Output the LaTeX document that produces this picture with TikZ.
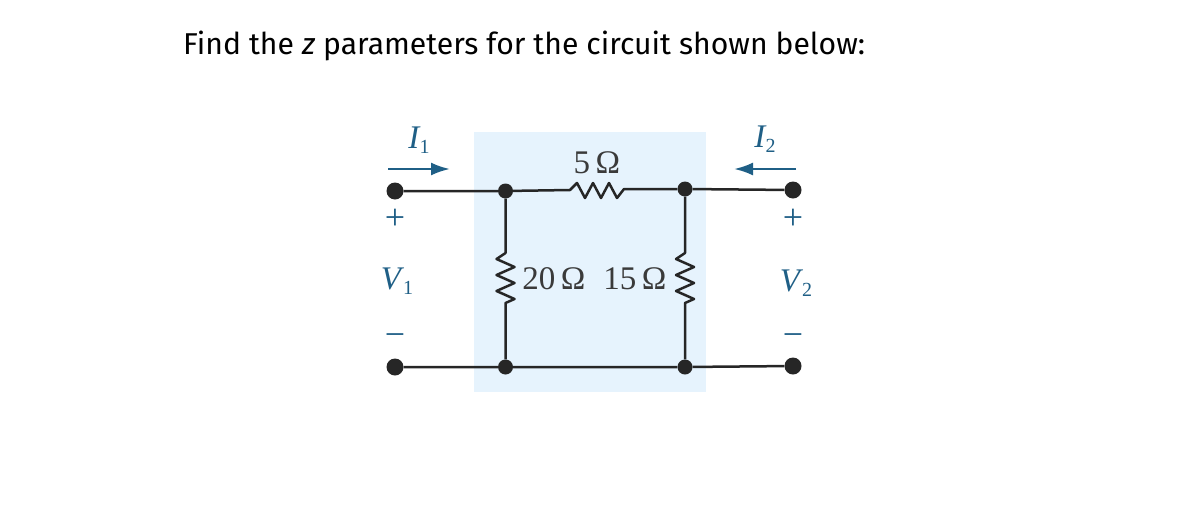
\documentclass[tikz,border=0pt]{standalone}
\usepackage{fontspec}
\setmainfont{Liberation Serif}
\newfontfamily\handfont{Fira Sans}
\usetikzlibrary{arrows.meta}
\definecolor{panel}{HTML}{E6F3FD}
\definecolor{wirec}{HTML}{262626}
\definecolor{teal}{HTML}{1F5F86}
\definecolor{labelc}{HTML}{3A3A3A}
\newcommand{\subnum}[1]{\kern-1pt\raisebox{-5pt}{\fontsize{20}{20}\selectfont #1}}
\tikzset{
  x=1pt,y=-1pt,
  wire/.style={draw=wirec,line width=2.5pt,line join=round},
  term/.style={circle,fill=wirec,inner sep=0pt,minimum size=17pt},
  junc/.style={circle,fill=wirec,inner sep=0pt,minimum size=15pt},
  lab/.style={inner sep=0pt,text=labelc,font=\fontsize{33}{33}\selectfont},
  slab/.style={inner sep=0pt,text=teal,font=\fontsize{33}{33}\selectfont},
  sign/.style={inner sep=0pt,text=teal,font=\fontsize{36}{36}\selectfont},
  flow/.style={draw=teal,line width=2.5pt,-{Latex[length=19pt,width=13pt]}},
  resh/.style={to path={-- ++(7,-7) -- ++(8,15) -- ++(8,-15) -- ++(8,15) -- ++(8,-15) -- ++(8,15) -- (\tikztotarget)}},
  resv/.style={to path={-- ++(9,-4) -- ++(-18,-8) -- ++(18,-8) -- ++(-18,-8) -- ++(18,-8) -- ++(-18,-8) -- (\tikztotarget)}},
}
\begin{document}
\begin{tikzpicture}
\useasboundingbox (0,0) rectangle (1179,504);
\fill[panel] (474,132) rectangle (706,392);
\node[anchor=west,inner sep=0pt,font=\handfont\fontsize{30}{30}\selectfont] (title) at (183,46)
  {\resizebox{682pt}{!}{Find the \textit{z} parameters for the circuit shown below:}};
\node[term] (t1) at (395,191) {};
\node[term] (t2) at (793,190) {};
\node[term] (t3) at (395,367) {};
\node[term] (t4) at (793,366) {};
\node[junc] (j1) at (505.5,191) {};
\node[junc] (j2) at (685,189) {};
\node[junc] (j3) at (505.5,367) {};
\node[junc] (j4) at (685,367) {};
\coordinate (ra) at (570,190);
\coordinate (rb) at (624,189);
\coordinate (la) at (505.5,303);
\coordinate (lb) at (505.5,253);
\coordinate (ma) at (685,303);
\coordinate (mb) at (685,253);
\draw[wire] (t1) -- (j1) -- (ra) to[resh] (rb) -- (j2) -- (t2);
\draw[wire] (t3) -- (j3) -- (j4) -- (t4);
\draw[wire] (j3) -- (la) to[resv] (lb) -- (j1);
\draw[wire] (j4) -- (ma) to[resv] (mb) -- (j2);
\node[lab] (r5) at (597,163) {5\,Ω};
\node[lab] (r20) at (554,279) {20\,Ω};
\node[lab] (r15) at (635,279) {15\,Ω};
\node[slab] (i1) at (419,140) {\textit{I}\subnum{1}};
\node[slab] (i2) at (765,139) {\textit{I}\subnum{2}};
\coordinate (a1s) at (388,169);
\coordinate (a1e) at (450,169);
\coordinate (a2s) at (796,169);
\coordinate (a2e) at (734,169);
\draw[flow] (a1s) -- (a1e);
\draw[flow] (a2s) -- (a2e);
\node[sign] (p1) at (395,219) {+};
\node[sign] (p2) at (793,219) {+};
\node[slab] (v1) at (397,281) {\textit{V}\subnum{1}};
\node[slab] (v2) at (796,283) {\textit{V}\subnum{2}};
\node[sign] (m1) at (395,340) {−};
\node[sign] (m2) at (793,340) {−};
\end{tikzpicture}
\end{document}
